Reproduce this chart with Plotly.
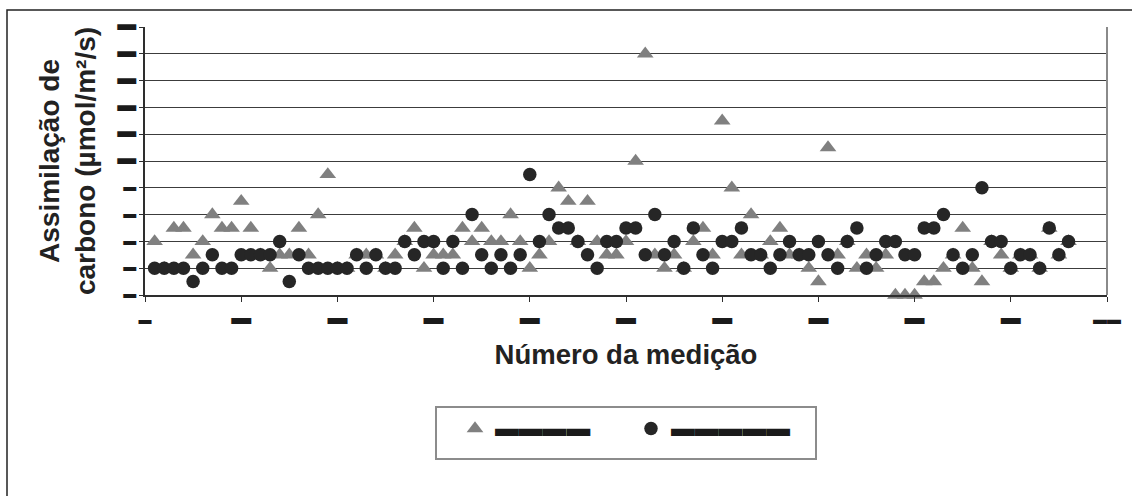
import plotly.graph_objects as go

# ---------------- data ----------------
MEASUREMENT = list(range(1, 97))

TRIANGLE_VALUES = [
    4, 2, 5, 5, 3, 4, 6, 5, 5, 7,
    5, 3, 2, 3, 3, 5, 3, 6, 9, 2,
    2, 3, 3, 3, 2, 3, 4, 5, 2, 3,
    3, 3, 5, 4, 5, 4, 4, 6, 4, 2,
    3, 4, 8, 7, 4, 7, 4, 3, 3, 4,
    10, 18, 3, 2, 3, 2, 4, 5, 3, 13,
    8, 3, 6, 3, 4, 5, 3, 3, 2, 1,
    11, 3, 4, 2, 3, 2, 3, 0, 0, 0,
    1, 1, 2, 3, 5, 2, 1, 4, 3, 2,
    3, 3, 2, 5, 3, 4,
]

CIRCLE_VALUES = [
    2, 2, 2, 2, 1, 2, 3, 2, 2, 3,
    3, 3, 3, 4, 1, 3, 2, 2, 2, 2,
    2, 3, 2, 3, 2, 2, 4, 3, 4, 4,
    2, 4, 2, 6, 3, 2, 3, 2, 3, 9,
    4, 6, 5, 5, 4, 3, 2, 4, 4, 5,
    5, 3, 6, 3, 4, 2, 5, 3, 2, 4,
    4, 5, 3, 3, 2, 3, 4, 3, 3, 4,
    3, 2, 4, 5, 2, 3, 4, 4, 3, 3,
    5, 5, 6, 3, 2, 3, 8, 4, 4, 2,
    3, 3, 2, 5, 3, 4,
]

X_TICK_VALUES = [0, 10, 20, 30, 40, 50, 60, 70, 80, 90, 100]
Y_TICK_VALUES = [0, 2, 4, 6, 8, 10, 12, 14, 16, 18, 20]

# The labels in the reference are blacked out; widths of the black bars (px)
X_TICK_BAR_WIDTHS = [13, 20, 20, 20, 20, 20, 20, 20, 20, 20, 28]
Y_TICK_BAR_WIDTHS = [13, 13, 13, 13, 13, 19, 19, 19, 19, 19, 19]
LEGEND_BAR_WIDTHS = [95, 119]

X_TITLE = "Número da medição"
Y_TITLE = "Assimilação de<br>carbono (µmol/m²/s)"

FONT = "Liberation Sans, Arial, sans-serif"
TRI_COLOR = "#808080"
CIRCLE_COLOR = "#262626"


def bar(width, height=4.5, ratio=0.25):
    """Black redaction bar written with U+25AC glyphs."""
    f_ideal = height / ratio
    n = max(1, round(width / f_ideal))
    f = width / n
    return "<span style='font-size:%.1fpx'>%s</span>" % (f, "\u25ac" * n)


x_tick_text = [bar(w) for w in X_TICK_BAR_WIDTHS]
y_tick_text = [bar(w) for w in Y_TICK_BAR_WIDTHS]
legend_names = [bar(w, height=6) for w in LEGEND_BAR_WIDTHS]

fig = go.Figure()
fig.add_trace(go.Scatter(
    x=MEASUREMENT, y=TRIANGLE_VALUES, mode="markers", name=legend_names[0],
    marker=dict(symbol="triangle-up", size=14.5, color=TRI_COLOR, line=dict(width=0)),
    cliponaxis=False,
))
fig.add_trace(go.Scatter(
    x=MEASUREMENT, y=CIRCLE_VALUES, mode="markers", name=legend_names[1],
    marker=dict(symbol="circle", size=13.5, color=CIRCLE_COLOR, line=dict(width=0)),
    cliponaxis=False,
))

L, R, T, B = 145, 25, 27, 201
W, H = 1132, 496
pw = W - L - R
ph = H - T - B


def px_x(p):
    return (p - L) / pw


def px_y(p):
    return (H - B - p) / ph


fig.update_layout(
    width=W, height=H,
    margin=dict(l=L, r=R, t=T, b=B, autoexpand=False),
    paper_bgcolor="white", plot_bgcolor="white",
    font=dict(family=FONT, color="#1a1a1a"),
    showlegend=True,
    legend=dict(
        orientation="h", x=px_x(455), xanchor="left", y=px_y(409), yanchor="top",
        bgcolor="rgba(0,0,0,0)", borderwidth=0,
        font=dict(family=FONT, size=20, color="#1a1a1a"),
        entrywidth=131, entrywidthmode="pixels",
    ),
    xaxis=dict(
        range=[0, 100], tickmode="array", tickvals=X_TICK_VALUES, ticktext=x_tick_text,
        showgrid=False, zeroline=False,
        showline=True, linecolor="#2e2e2e", linewidth=1.5,
        ticks="outside", ticklen=5, tickwidth=1, tickcolor="#2e2e2e",
        tickfont=dict(family=FONT, size=15, color="#1a1a1a"),
        ticklabelstandoff=4,
        title=dict(text=X_TITLE, font=dict(family=FONT, size=27.5, weight="bold", color="#222222"),
                   standoff=18),
    ),
    yaxis=dict(
        range=[0, 20], tickmode="array", tickvals=Y_TICK_VALUES, ticktext=y_tick_text,
        showgrid=True, gridcolor="#3c3c3c", gridwidth=1,
        zeroline=False,
        showline=True, linecolor="#2e2e2e", linewidth=1.5,
        ticks="outside", ticklen=4, tickwidth=1, tickcolor="#2e2e2e",
        tickfont=dict(family=FONT, size=15, color="#1a1a1a"),
        ticklabelstandoff=0, ticklabelshift=-2,
        title=dict(text=Y_TITLE, font=dict(family=FONT, size=28, weight="bold", color="#222222"),
                   standoff=13),
    ),
    shapes=[
        # right edge of the plot area
        dict(type="line", xref="paper", yref="paper", x0=1, x1=1, y0=0, y1=1,
             line=dict(color="#8a8a8a", width=2)),
        # outer chart frame (cropped on the right and bottom in the reference)
        dict(type="rect", xref="paper", yref="paper",
             x0=px_x(7), x1=px_x(1150), y0=px_y(520), y1=px_y(10),
             line=dict(color="#222222", width=1.5), layer="below"),
        # legend frame
        dict(type="rect", xref="paper", yref="paper",
             x0=px_x(436), x1=px_x(816), y0=px_y(459), y1=px_y(407),
             line=dict(color="#8c8c8c", width=2), layer="below"),
    ],
)

fig.write_html("out.html")
